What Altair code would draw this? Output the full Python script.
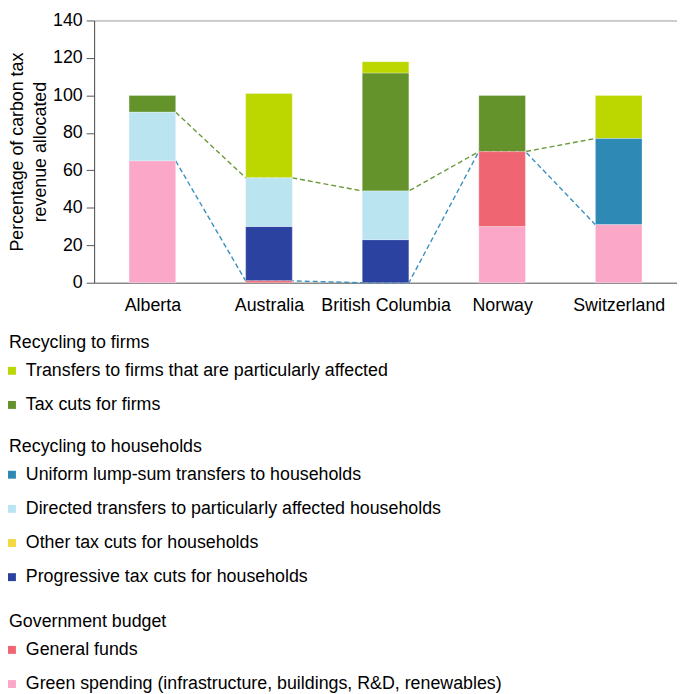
import altair as alt
import pandas as pd

countries = ["Alberta", "Australia", "British Columbia", "Norway", "Switzerland"]

# shares of carbon tax revenue (%)
green_spending = [65, 0, 0, 30, 31]
general_funds = [0, 1, 0, 40, 0]
progressive_tax_cuts = [0, 29, 23, 0, 0]
other_tax_cuts = [0, 0, 0, 0, 0]
directed_transfers = [26, 26, 26, 0, 0]
uniform_lump_sum = [0, 0, 0, 0, 46]
tax_cuts_firms = [9, 0, 63, 30, 0]
transfers_firms = [0, 45, 6, 0, 23]

groups = ["Recycling to firms", "Recycling to households", "Government budget"]
categories = {
    "Recycling to firms": [
        ("Transfers to firms that are particularly affected", transfers_firms, "#BCD600"),
        ("Tax cuts for firms", tax_cuts_firms, "#64922B"),
    ],
    "Recycling to households": [
        ("Uniform lump-sum transfers to households", uniform_lump_sum, "#2E8AB5"),
        ("Directed transfers to particularly affected households", directed_transfers, "#BAE4F0"),
        ("Other tax cuts for households", other_tax_cuts, "#F2D841"),
        ("Progressive tax cuts for households", progressive_tax_cuts, "#2B42A0"),
    ],
    "Government budget": [
        ("General funds", general_funds, "#EF6672"),
        ("Green spending (infrastructure, buildings, R&D, renewables)", green_spending, "#FBA7C8"),
    ],
}

HALF = 0.2  # half bar width in category units
FONT = "Liberation Sans"

# stack bottom-up: government, households, firms (each in reverse legend order)
rows = []
bottoms = [0] * len(countries)
tops = {}
for g in reversed(groups):
    for name, vals, _ in reversed(categories[g]):
        for i, c in enumerate(countries):
            if vals[i] > 0:
                rows.append({"country": c, "pos": i, "category": name, "group": g,
                             "y0": bottoms[i], "y1": bottoms[i] + vals[i]})
            bottoms[i] += vals[i]
    tops[g] = list(bottoms)
bars = pd.DataFrame(rows)
bars["x0"] = bars["pos"] - HALF
bars["x1"] = bars["pos"] + HALF

def boundary(vals):
    pts = []
    for i, v in enumerate(vals):
        if i > 0:
            pts.append({"x": i - HALF, "y": v, "k": len(pts)})
        if i < len(vals) - 1:
            pts.append({"x": i + HALF, "y": v, "k": len(pts)})
    return pd.DataFrame(pts)

house_line = boundary(tops["Recycling to households"])
gov_line = boundary(tops["Government budget"])

label_expr = "[" + ",".join("'%s'" % c for c in countries) + "][datum.value]"
xscale = alt.Scale(domain=[-0.5, len(countries) - 0.5], nice=False, zero=False)
yscale = alt.Scale(domain=[0, 140], nice=False)
xaxis = alt.Axis(values=list(range(len(countries))), labelExpr=label_expr, title=None,
                 grid=False, ticks=False, tickSize=0, labelPadding=14, domainColor="#777")
yaxis = alt.Axis(values=list(range(0, 141, 20)), title=["Percentage of carbon tax", "revenue allocated"],
                 grid=False, tickSize=8, labelPadding=4, titlePadding=3, domainColor="#555",
                 tickColor="#555", titleLineHeight=23)

lines = []
for df, col in [(gov_line, "#3A8FC0"), (house_line, "#6A9A3A")]:
    lines.append(alt.Chart(df).mark_line(color=col, strokeDash=[5, 3], strokeWidth=1.4).encode(
        x=alt.X("x:Q", scale=xscale, axis=xaxis),
        y=alt.Y("y:Q", scale=yscale, axis=yaxis),
        order="k:Q",
    ))

legend_y = {"Recycling to firms": 317, "Recycling to households": 422, "Government budget": 599}
bar_layers = []
for g in groups:
    names = [n for n, _, _ in categories[g]]
    colors = [c for _, _, c in categories[g]]
    bar_layers.append(alt.Chart(bars).transform_filter(alt.datum.group == g).mark_bar(
        stroke="white", strokeWidth=0.5, strokeOpacity=0.6
    ).encode(
        x=alt.X("x0:Q", scale=xscale, axis=xaxis),
        x2="x1:Q",
        y=alt.Y("y0:Q", scale=yscale, axis=yaxis),
        y2="y1:Q",
        color=alt.Color("category:N", scale=alt.Scale(domain=names, range=colors),
                        legend=alt.Legend(title=g, orient="none", direction="vertical",
                                          legendX=-86, legendY=legend_y[g])),
    ))

chart = alt.layer(*lines, *bar_layers).resolve_scale(color="independent").properties(
    width=589, height=265, padding=0
).configure(font=FONT).configure_view(
    stroke="#999", strokeWidth=1
).configure_axis(
    labelFontSize=18, labelColor="black", titleFontSize=18, titleFontWeight="normal",
    titleColor="black", labelFont=FONT, titleFont=FONT
).configure_legend(
    titleFontSize=18, titleFontWeight="normal", titleColor="black", titleLimit=700,
    titlePadding=10, labelFontSize=18, labelColor="black", labelLimit=700, labelOffset=5,
    symbolType="square", symbolSize=64, symbolStrokeWidth=0, symbolOpacity=1,
    symbolOffset=-6, rowPadding=16.5, padding=0, titleFont=FONT, labelFont=FONT
)

chart.save("out.html", embed_options={"renderer": "svg", "actions": False})
